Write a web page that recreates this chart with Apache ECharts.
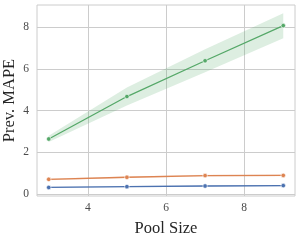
<!DOCTYPE html>
<html><head><meta charset="utf-8">
<script src="https://cdn.jsdelivr.net/npm/echarts@6/dist/echarts.min.js"></script>
<style>html,body{margin:0;padding:0;background:#fff}#c{width:299px;height:240px}</style>
</head><body><div id="c"></div>
<script>
const poolSize = [3, 5, 7, 9];
const blueMean = [0.31, 0.35, 0.38, 0.40];
const blueLow = [0.28, 0.32, 0.35, 0.37];
const blueHigh = [0.34, 0.38, 0.41, 0.43];
const orangeMean = [0.70, 0.80, 0.88, 0.89];
const orangeLow = [0.66, 0.76, 0.84, 0.85];
const orangeHigh = [0.74, 0.84, 0.92, 0.93];
const greenMean = [2.64, 4.68, 6.40, 8.09];
const greenLow = [2.49, 4.25, 5.85, 7.48];
const greenHigh = [2.79, 5.12, 6.95, 8.68];
const xTicks = [4, 6, 8];
const yTicks = [0, 2, 4, 6, 8];

const colors = {blue: '#4c72b0', orange: '#dd8452', green: '#55a868'};
const font = '"Liberation Serif", "DejaVu Serif", serif';

function pts(arr) { return poolSize.map((x, i) => [x, arr[i]]); }

const series = [];
function addBand(lo, hi, color) {
  const data = poolSize.map((x, i) => [x, lo[i], hi[i]]);
  series.push({
    type: 'custom', data: data, silent: true, z: 1,
    encode: {x: 0, y: [1, 2]},
    renderItem: function (params, api) {
      if (params.dataIndex !== 0) return null;
      const upper = data.map(d => api.coord([d[0], d[2]]));
      const lower = data.slice().reverse().map(d => api.coord([d[0], d[1]]));
      return {type: 'polygon', shape: {points: upper.concat(lower)},
        style: {fill: color, opacity: 0.2}};
    }
  });
}
function addLine(mean, color) {
  series.push({type: 'line', data: pts(mean), symbol: 'circle', symbolSize: 4.5,
    itemStyle: {color: color, borderColor: '#fff', borderWidth: 0.6},
    lineStyle: {color: color, width: 1.3}, z: 3});
}
addBand(blueLow, blueHigh, colors.blue);
addBand(orangeLow, orangeHigh, colors.orange);
addBand(greenLow, greenHigh, colors.green);
addLine(blueMean, colors.blue);
addLine(orangeMean, colors.orange);
addLine(greenMean, colors.green);

const chart = echarts.init(document.getElementById('c'), null, {renderer: 'canvas'});
chart.setOption({
  animation: false,
  backgroundColor: '#fff',
  grid: {left: 37, right: 4, top: 5, bottom: 44, show: true, borderColor: '#cccccc', borderWidth: 1,
    containLabel: false, outerBoundsMode: 'none'},
  xAxis: {
    type: 'value', min: 2.7, max: 9.3,
    name: 'Pool Size', nameLocation: 'middle', nameGap: 24, nameMoveOverlap: false,
    nameTextStyle: {fontFamily: font, fontSize: 16.5, color: '#262626'},
    axisLine: {show: false},
    axisLabel: {fontFamily: font, fontSize: 11.5, color: '#4a4a4a', margin: 6,
      customValues: xTicks, formatter: v => String(v)},
    axisTick: {show: false, customValues: xTicks},
    splitLine: {show: true, lineStyle: {color: '#cccccc', width: 1}}
  },
  yAxis: {
    type: 'value', min: -0.1, max: 9.08,
    name: 'Prev. MAPE', nameLocation: 'middle', nameGap: 19, nameMoveOverlap: false,
    nameTextStyle: {fontFamily: font, fontSize: 16.5, color: '#262626'},
    axisLine: {show: false},
    axisLabel: {fontFamily: font, fontSize: 11.5, color: '#4a4a4a', margin: 8,
      customValues: yTicks, formatter: v => String(v)},
    axisTick: {show: false, customValues: yTicks},
    splitLine: {show: true, lineStyle: {color: '#cccccc', width: 1}}
  },
  series: series
});
</script></body></html>
